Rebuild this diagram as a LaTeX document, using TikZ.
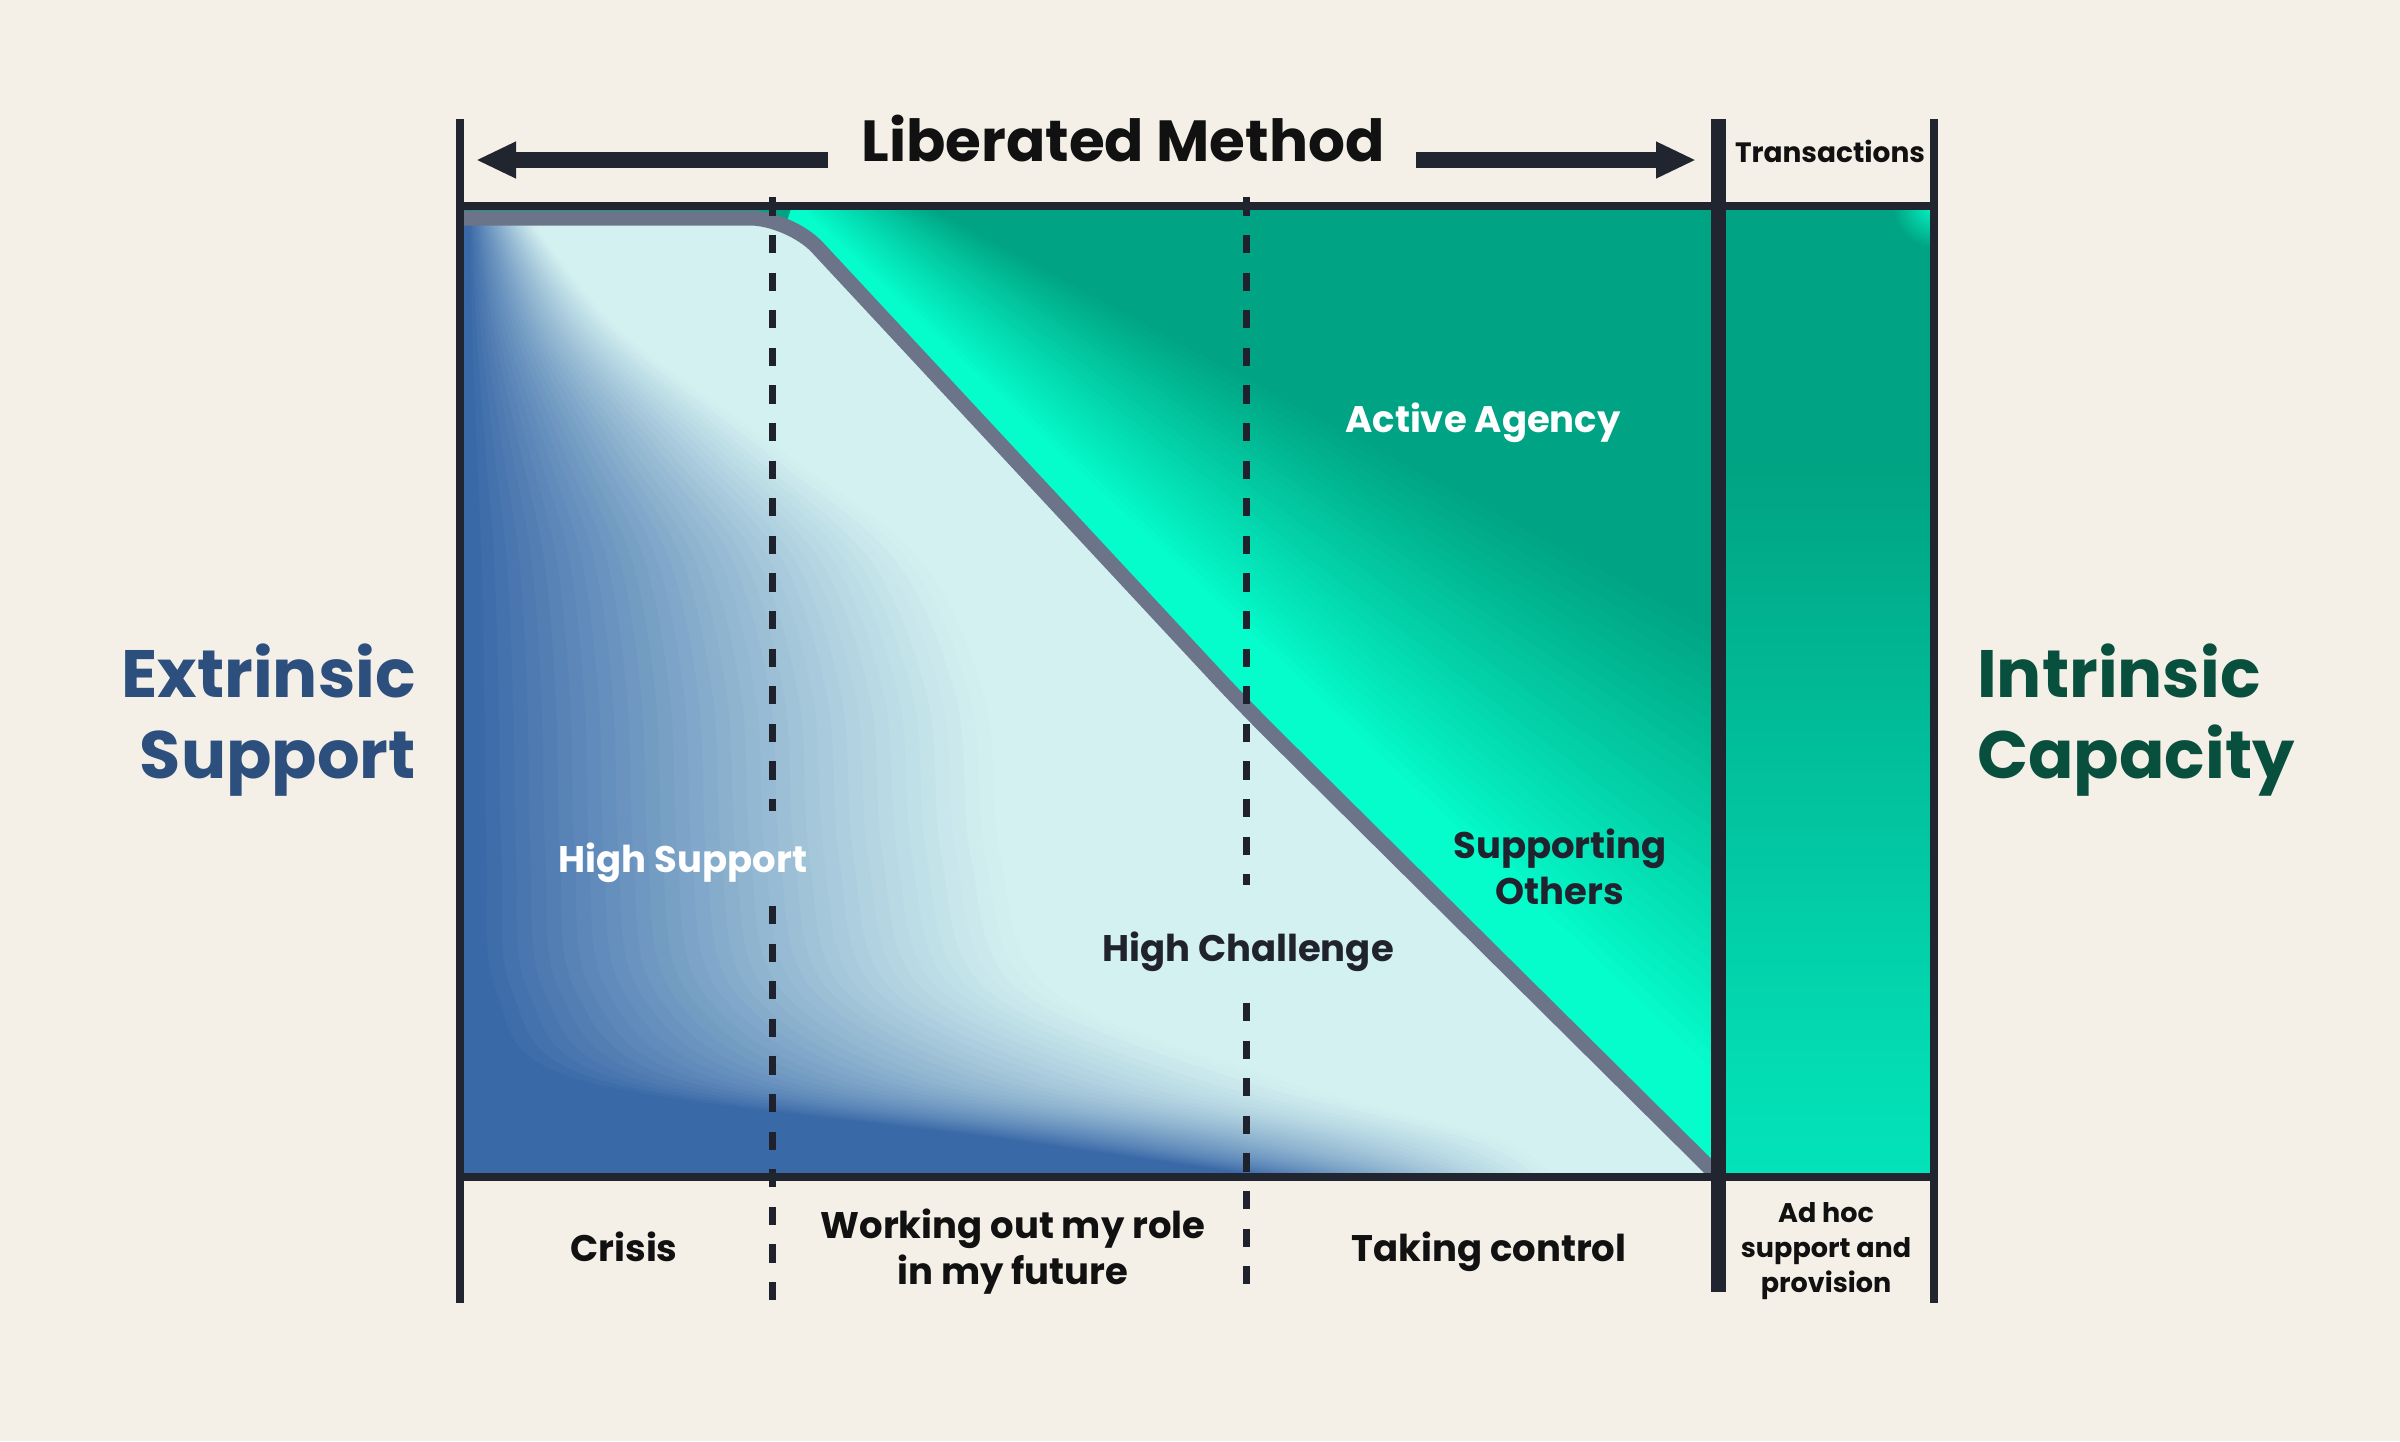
\documentclass[tikz,border=0pt]{standalone}
\usepackage{fontspec}
\setmainfont{Poppins}
\usetikzlibrary{arrows.meta}
\definecolor{bg}{HTML}{F4F0E8}
\definecolor{frame}{HTML}{21252F}
\definecolor{dashc}{HTML}{1F222C}
\definecolor{graycurve}{HTML}{6B7489}
\definecolor{cyanL}{HTML}{D4F1F1}
\definecolor{blueD}{HTML}{3A69A8}
\definecolor{greenD}{HTML}{00A383}
\definecolor{greenB}{HTML}{05FCCB}
\definecolor{greenM}{HTML}{03DDB4}
\definecolor{extc}{HTML}{2C4F7E}
\definecolor{intc}{HTML}{08503D}
\definecolor{darktext}{HTML}{20232D}
\definecolor{blacktext}{HTML}{111111}
\pgfdeclareverticalshading{colgrad}{100bp}{color(0bp)=(greenB); color(30bp)=(greenM); color(62bp)=(greenD); color(100bp)=(greenD)}
\begin{document}
\begin{tikzpicture}[x=1pt,y=-1pt,
  lbl/.style={inner sep=0pt, font=\fontsize{37}{46}\selectfont\bfseries},
  smalllbl/.style={inner sep=0pt, font=\fontsize{27}{35}\selectfont\bfseries},
  biglbl/.style={inner sep=0pt, font=\fontsize{67}{81}\selectfont\bfseries},
  frameline/.style={draw=frame, line width=8pt},
  thickline/.style={draw=frame, line width=15pt},
  dashline/.style={draw=dashc, line width=7pt, dash pattern=on 18.2pt off 19.4pt},
  arrowline/.style={draw=frame, line width=16pt, -{Triangle[length=40pt, width=34pt]}},
  band/.style={draw=graycurve, line width=15pt, rounded corners=40pt},
]
\useasboundingbox (0,0) rectangle (2400,1441);
\fill[bg] (0,0) rectangle (2400,1441);

% ---------- main chart ----------
\fill[cyanL] (464,210) rectangle (1714,1173);
\begin{scope}
  \clip (464,210) rectangle (1714,1173);
  % blue contours
  \foreach \k in {0,...,35}{
    \pgfmathsetmacro\myT{\k/36}
    \pgfmathsetmacro\myP{100*((\k+1)/36)^1.15}
    \fill[blueD!\myP!cyanL] (455,1185) -- (455,205) -- plot[smooth,tension=0.55] coordinates {
      ({520-52*\myT},205)
      ({620-152*\myT},330)
      ({780-312*\myT},450)
      ({920-451*\myT},560)
      ({985-515*\myT},700)
      ({1000-528*\myT},857)
      ({1050-570*\myT},990)
      ({1280-720*\myT},1080)
      ({1500-500*\myT},1140)
      ({1560-240*\myT},1185)
    } -- cycle;
  }
  % green region
  \begin{scope}
    \clip[rounded corners=40pt] (455,218) -- (790,218) -- (1245,707) -- (1730,1188) -- (1730,200) -- (455,200) -- cycle;
    \fill[greenD] (455,200) rectangle (1730,1190);
    \foreach \k in {0,...,29}{
      \pgfmathsetmacro\myT{\k/30}
      \pgfmathsetmacro\myP{100*(\k+1)/30}
      \fill[greenB!\myP!greenD] ({915-125*\myT},200) -- (1730,{640+460*\myT}) -- (1730,1200) -- (455,1200) -- cycle;
    }
  \end{scope}
  \draw[band] (455,218) -- (790,218) -- (1245,707) -- (1730,1188);
\end{scope}

% ---------- right column ----------
\shade[shading=colgrad] (1722,210) rectangle (1930,1173);
\begin{scope}
  \clip (1726,210) rectangle (1930,1173);
  \shade[inner color=greenB, outer color=greenD] (1936,204) circle (44);
\end{scope}

% ---------- dashed dividers ----------
\coordinate (d1a) at (772,197.4); \coordinate (d1b) at (772,811);
\coordinate (d1c) at (772,906);   \coordinate (d1d) at (772,1303);
\coordinate (d2a) at (1246,197.4); \coordinate (d2b) at (1246,885);
\coordinate (d2c) at (1246,1003);  \coordinate (d2d) at (1246,1303);
\draw[dashline] (d1a) -- (d1b);
\draw[dashline] (d1c) -- (d1d);
\draw[dashline] (d2a) -- (d2b);
\draw[dashline] (d2c) -- (d2d);

% ---------- frame ----------
\coordinate (fl1) at (460,119);  \coordinate (fl2) at (460,1303);
\coordinate (ft1) at (456,206);  \coordinate (ft2) at (1938,206);
\coordinate (fb1) at (456,1177); \coordinate (fb2) at (1938,1177);
\coordinate (fr1) at (1718,119); \coordinate (fr2) at (1718,1292);
\coordinate (fs1) at (1934,119); \coordinate (fs2) at (1934,1303);
\draw[frameline] (ft1) -- (ft2);
\draw[frameline] (fb1) -- (fb2);
\draw[frameline] (fl1) -- (fl2);
\draw[frameline] (fs1) -- (fs2);
\draw[thickline] (fr1) -- (fr2);

% ---------- arrows ----------
\coordinate (la0) at (828,160); \coordinate (la1) at (476,160);
\coordinate (ra0) at (1416,160); \coordinate (ra1) at (1696,160);
\draw[arrowline] (la0) -- (la1);
\draw[arrowline] (ra0) -- (ra1);

% ---------- texts ----------
\node[inner sep=0pt, anchor=base, text=blacktext, font=\fontsize{58}{70}\selectfont\bfseries] (lm) at (1123,161) {Liberated Method};
\node[inner sep=0pt, anchor=base, text=blacktext, font=\fontsize{28}{35}\selectfont\bfseries] (tr) at (1830,162) {Transactions};

\node[biglbl, anchor=base east, text=extc] (ext) at (416,697) {\begin{tabular}[t]{@{}r@{}}Extrinsic\\Support\end{tabular}};
\node[biglbl, anchor=base west, text=intc] (int) at (1977,697) {\begin{tabular}[t]{@{}l@{}}Intrinsic\\Capacity\end{tabular}};

\node[lbl, anchor=base, text=white] (aa) at (1483,432) {Active Agency};
\node[lbl, anchor=base, text=darktext] (so) at (1560,858) {\begin{tabular}[t]{@{}c@{}}Supporting\\Others\end{tabular}};
\node[lbl, anchor=base, text=white] (hs) at (683,872) {High Support};
\node[lbl, anchor=base, text=darktext] (hc) at (1248,961) {High Challenge};

\node[lbl, anchor=base, text=blacktext] (cr) at (624,1261) {Crisis};
\node[lbl, anchor=base, text=blacktext] (wo) at (1013,1238) {\begin{tabular}[t]{@{}c@{}}Working out my role\\in my future\end{tabular}};
\node[lbl, anchor=base, text=blacktext] (tc) at (1489,1261) {Taking control};
\node[smalllbl, anchor=base, text=blacktext] (ah) at (1826,1222) {\begin{tabular}[t]{@{}c@{}}Ad hoc\\support and\\provision\end{tabular}};
\end{tikzpicture}
\end{document}
